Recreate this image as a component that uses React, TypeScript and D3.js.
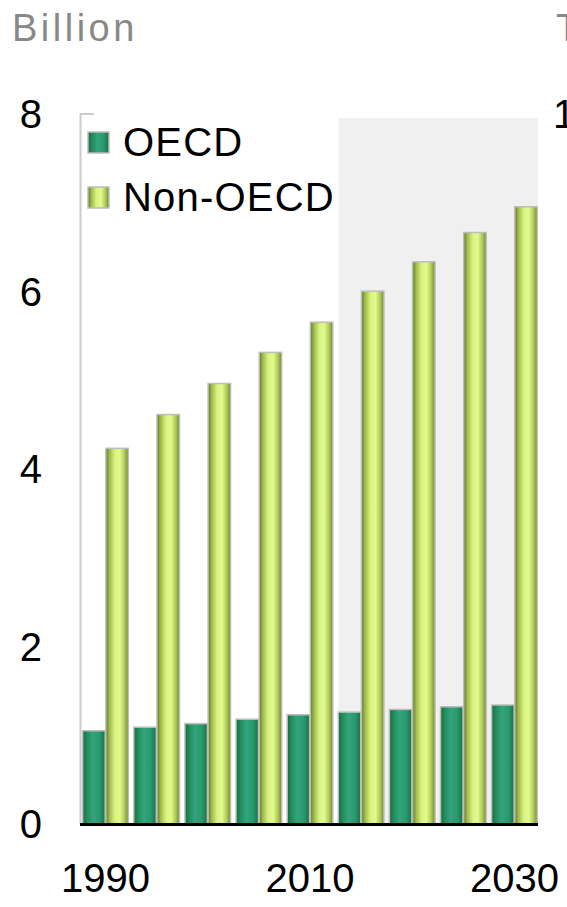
import React from 'react';
import * as d3 from 'd3';

const years = ['1990', '1995', '2000', '2005', '2010', '2015', '2020', '2025', '2030'];
const seriesNames = ['OECD', 'Non-OECD'];
const oecd = [1.05, 1.09, 1.13, 1.18, 1.23, 1.26, 1.29, 1.32, 1.34];
const nonOecd = [4.23, 4.61, 4.96, 5.31, 5.65, 6.0, 6.33, 6.66, 6.95];
const yTicks = [0, 2, 4, 6, 8];
const xTickLabels = ['1990', '2010', '2030'];
const projectionStart = '2015';

const App: React.FC = () => {
  const svgRef = React.useRef<SVGSVGElement>(null);
  const width = 567;
  const height = 907;

  React.useEffect(() => {
    if (!svgRef.current) return;
    const svg = d3.select(svgRef.current);
    svg.selectAll('*').remove();

    const font = '"Liberation Sans", Arial, sans-serif';
    const left = 80;
    const right = 538;

    const y = d3.scaleLinear().domain([0, 8]).range([824, 113.5]);
    const x0 = d3.scaleBand<string>()
      .domain(years)
      .range([81, 539])
      .paddingInner(0.08)
      .paddingOuter(0.02);
    const x1 = d3.scaleBand<string>()
      .domain(seriesNames)
      .range([0, x0.bandwidth()])
      .padding(0.03);

    // gradients
    const defs = svg.append('defs');
    const grad = (id: string, stops: [number, string][]) => {
      const g = defs.append('linearGradient').attr('id', id)
        .attr('x1', '0%').attr('x2', '100%').attr('y1', '0%').attr('y2', '0%');
      stops.forEach(([o, c]) => g.append('stop').attr('offset', `${o}%`).attr('stop-color', c));
    };
    grad('g-oecd', [[0, '#136b3a'], [18, '#218b5c'], [45, '#34a47c'], [75, '#2a9870'], [100, '#17733f']]);
    grad('g-non', [[0, '#5f7424'], [15, '#9cb948'], [40, '#d9f380'], [62, '#e2fa8e'], [85, '#a9c454'], [100, '#6c852a']]);
    const fills = ['url(#g-oecd)', 'url(#g-non)'];

    // projection shading
    const shadeX = (x0(projectionStart) || 0) + 1;
    svg.append('rect')
      .attr('x', shadeX)
      .attr('y', y(7.95))
      .attr('width', right - shadeX)
      .attr('height', y(0) - y(7.95))
      .attr('fill', '#f0f0f0');

    // left axis line
    svg.append('line')
      .attr('x1', left + 0.5).attr('x2', left + 0.5)
      .attr('y1', y(8)).attr('y2', y(0))
      .attr('stroke', '#cccccc').attr('stroke-width', 2);
    svg.append('line')
      .attr('x1', left).attr('x2', left + 14)
      .attr('y1', y(8) + 0.5).attr('y2', y(8) + 0.5)
      .attr('stroke', '#cccccc').attr('stroke-width', 2);

    // bars
    const data = [oecd, nonOecd];
    years.forEach((yr, i) => {
      seriesNames.forEach((s, j) => {
        const v = data[j][i];
        svg.append('rect')
          .attr('x', (x0(yr) || 0) + (x1(s) || 0))
          .attr('y', y(v))
          .attr('width', x1.bandwidth())
          .attr('height', y(0) - y(v))
          .attr('fill', fills[j])
          .attr('stroke', '#bdbdbd')
          .attr('stroke-width', 1.5);
      });
    });

    // baseline
    svg.append('line')
      .attr('x1', left).attr('x2', right)
      .attr('y1', y(0) + 0.5).attr('y2', y(0) + 0.5)
      .attr('stroke', '#000').attr('stroke-width', 3);

    // y tick labels
    svg.selectAll('.ytick')
      .data(yTicks)
      .enter().append('text')
      .attr('class', 'ytick')
      .attr('x', 42)
      .attr('y', d => y(d))
      .attr('dy', '0.36em')
      .attr('text-anchor', 'end')
      .attr('font-family', font)
      .attr('font-size', 40)
      .attr('fill', '#000')
      .text(d => d);

    // x tick labels
    svg.selectAll('.xtick')
      .data(xTickLabels)
      .enter().append('text')
      .attr('class', 'xtick')
      .attr('x', d => (x0(d) || 0) + x0.bandwidth() / 2)
      .attr('y', 892)
      .attr('text-anchor', 'middle')
      .attr('font-family', font)
      .attr('font-size', 40)
      .attr('fill', '#000')
      .text(d => d);

    // legend
    const legend = svg.append('g');
    seriesNames.forEach((s, j) => {
      const ly = 132 + j * 55;
      legend.append('rect')
        .attr('x', 88).attr('y', ly)
        .attr('width', 21).attr('height', 21)
        .attr('fill', fills[j])
        .attr('stroke', '#bdbdbd').attr('stroke-width', 1.5);
      legend.append('text')
        .attr('x', 123).attr('y', ly + 24)
        .attr('font-family', font)
        .attr('font-size', 40)
        .attr('letter-spacing', 1.2)
        .attr('fill', '#000')
        .text(s);
    });

    // titles
    svg.append('text')
      .attr('x', 12).attr('y', 41)
      .attr('font-family', font)
      .attr('font-size', 38)
      .attr('letter-spacing', 3.5)
      .attr('fill', '#888888')
      .text('Billion');
    svg.append('text')
      .attr('x', 556).attr('y', 41)
      .attr('font-family', font)
      .attr('font-size', 38)
      .attr('fill', '#888888')
      .text('T');
    svg.append('text')
      .attr('x', 553).attr('y', y(8))
      .attr('dy', '0.36em')
      .attr('font-family', font)
      .attr('font-size', 40)
      .attr('fill', '#000')
      .text('1');
  }, []);

  return (
    <svg
      ref={svgRef}
      width={width}
      height={height}
      style={{ position: 'absolute', left: 0, top: 0, background: '#fff' }}
    />
  );
};

export default App;
